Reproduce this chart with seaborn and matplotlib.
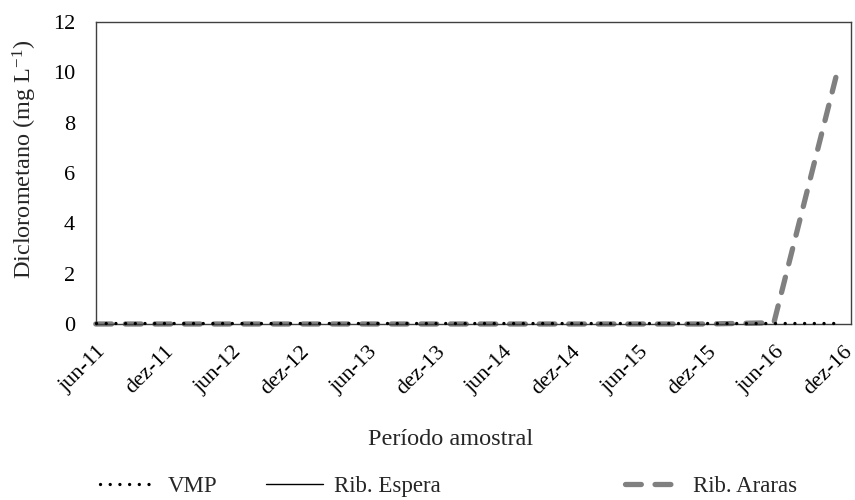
import matplotlib
matplotlib.use("Agg")
import matplotlib.pyplot as plt
import matplotlib.transforms as mtransforms
import seaborn as sns
import pandas as pd
import numpy as np
from matplotlib.lines import Line2D

# ---- data ----
tick_labels = ["jun-11", "dez-11", "jun-12", "dez-12", "jun-13", "dez-13",
               "jun-14", "dez-14", "jun-15", "dez-15", "jun-16", "dez-16"]
tick_dates = ["2011-06-01", "2011-12-01", "2012-06-01", "2012-12-01", "2013-06-01",
              "2013-12-01", "2014-06-01", "2014-12-01", "2015-06-01", "2015-12-01",
              "2016-06-01", "2016-12-01"]

araras_dates = ["2011-06-01", "2011-12-01", "2012-06-01", "2012-12-01", "2013-06-01",
                "2013-12-01", "2014-06-01", "2014-12-01", "2015-06-01", "2015-12-01",
                "2016-06-01", "2016-11-15"]
araras_values = [0.0, 0.0, 0.0, 0.0, 0.0, 0.0, 0.0, 0.0, 0.0, 0.0, 0.05, 9.8]

vmp_dates = ["2011-06-01", "2016-11-15"]
vmp_values = [0.02, 0.02]

espera_dates = []
espera_values = []

series_names = ["VMP", "Rib. Espera", "Rib. Araras"]

sns.set_style("white")
plt.rcParams['font.family'] = ['Liberation Serif', 'DejaVu Serif']
plt.rcParams['mathtext.fontset'] = 'custom'
plt.rcParams['mathtext.rm'] = 'Liberation Serif'
plt.rcParams['mathtext.it'] = 'Liberation Serif:italic'

fig = plt.figure(figsize=(8.55, 5.0), dpi=100)
ax = fig.add_axes([0.112, 0.352, 0.883, 0.604])

df_ar = pd.DataFrame({"date": pd.to_datetime(araras_dates), "v": araras_values})
df_vmp = pd.DataFrame({"date": pd.to_datetime(vmp_dates), "v": vmp_values})

GREY = "#808080"
VMP_DASH = [0.01, 2.9]
AR_DASH = [3.0, 2.6]
sns.lineplot(data=df_ar, x="date", y="v", ax=ax, color=GREY, lw=3.8,
             legend=False, zorder=2)
ax.lines[-1].set_dashes(AR_DASH)
ax.lines[-1].set_dash_capstyle("round")
ax.lines[-1].set_clip_on(False)
sns.lineplot(data=df_vmp, x="date", y="v", ax=ax, color="black", lw=2.4,
             legend=False, zorder=3)
ax.lines[-1].set_dashes(VMP_DASH)
ax.lines[-1].set_dash_capstyle("round")
ax.lines[-1].set_clip_on(False)
if espera_values:
    df_es = pd.DataFrame({"date": pd.to_datetime(espera_dates), "v": espera_values})
    sns.lineplot(data=df_es, x="date", y="v", ax=ax, color="black", lw=1.0, legend=False)

ax.set_xlim(pd.Timestamp("2011-06-01"), pd.Timestamp("2016-12-25"))
ax.set_ylim(0, 12)
ax.set_yticks(np.arange(0, 13, 2))
ax.set_xticks(pd.to_datetime(tick_dates))
ax.set_xticklabels(tick_labels, rotation=45, ha="right", va="center",
                   rotation_mode="anchor")
ax.tick_params(axis="both", direction="out", length=7, width=1, color="#404040",
               labelsize=16, labelcolor="black")
ax.tick_params(axis="y", pad=8)
ax.tick_params(axis="x", pad=11)
off = mtransforms.ScaledTranslation(5.5 / 72, 0, fig.dpi_scale_trans)
for lab in ax.get_xticklabels():
    lab.set_transform(lab.get_transform() + off)
for s in ax.spines.values():
    s.set_visible(True)
    s.set_color("#404040")
    s.set_linewidth(1.0)

ax.set_ylabel("Diclorometano (mg L$^{\\mathregular{-1}}$)", fontsize=17.5,
              va="center", ha="center")
ax.yaxis.set_label_coords(-0.094, 0.546)
ax.set_xlabel("Período amostral", fontsize=17.5, va="center", ha="center")
ax.xaxis.set_label_coords(0.47, -0.384)

h_vmp = Line2D([], [], color="black", lw=2.4, dashes=VMP_DASH, dash_capstyle="round")
h_esp = Line2D([], [], color="black", lw=1.0)
h_ar = Line2D([], [], color=GREY, lw=3.8, dashes=AR_DASH, dash_capstyle="round")
handles = [h_vmp, h_esp, h_ar]
leg_x = [0.117, 0.311, 0.731]
for h, name, x in zip(handles, series_names, leg_x):
    fig.legend([h], [name], loc="center left", bbox_to_anchor=(x, 0.028),
               frameon=False, fontsize=16.5, handlelength=2.5, handletextpad=0.45,
               borderpad=0, borderaxespad=0)

fig.savefig("out.png", dpi=100)
